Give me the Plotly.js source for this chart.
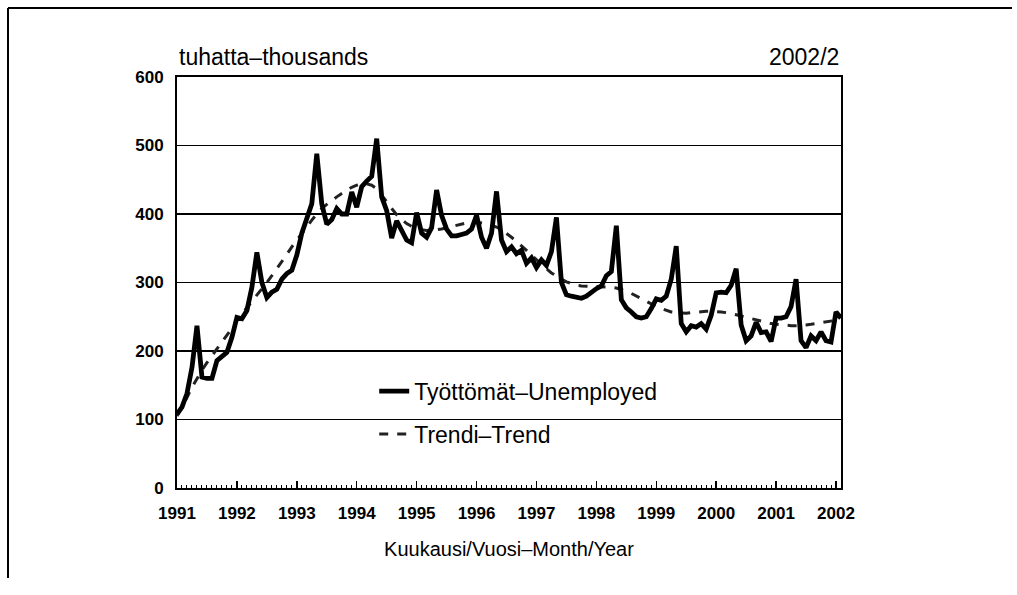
<!DOCTYPE html>
<html>
<head>
<meta charset="utf-8">
<script src="https://cdn.plot.ly/plotly-3.0.1.min.js"></script>
<style>
html,body{margin:0;padding:0;background:#fff;}
#chart{width:1017px;height:595px;}
</style>
</head>
<body>
<div id="chart"></div>
<script>
// Monthly data, Jan 1991 – Feb 2002 (thousands)
const yearLabels = ["1991","1992","1993","1994","1995","1996","1997","1998","1999","2000","2001","2002"];
const yTickVals = [0,100,200,300,400,500,600];

const unemployed = [
  108,118,138,176,237,162,160,160,186,191,198,220,   // 1991
  249,247,259,293,344,300,278,286,290,305,313,318,   // 1992
  340,372,392,415,488,415,385,392,408,400,400,432,   // 1993
  410,440,448,455,510,425,405,365,390,375,362,358,   // 1994
  402,372,366,380,435,398,378,368,368,370,372,378,   // 1995
  398,366,350,372,433,362,345,352,342,347,328,336,   // 1996
  322,333,325,345,395,300,282,280,279,277,280,286,   // 1997
  291,295,310,316,383,275,263,257,250,248,250,262,   // 1998
  276,274,280,305,353,240,228,237,235,240,232,252,   // 1999
  285,286,285,296,320,238,215,222,242,227,228,214,   // 2000
  248,248,250,265,305,215,205,222,215,228,215,213,   // 2001
  257,248                                            // 2002
];

const trend = [
  105,118,132,147,160,172,183,193,203,213,222,233,   // 1991
  245,254,263,272,282,291,300,310,320,330,341,352,   // 1992
  362,372,382,391,400,408,414,420,425,430,435,439,   // 1993
  442,444,444,442,437,428,418,408,399,392,386,382,   // 1994
  379,377,376,376,377,378,380,382,384,386,387,388,   // 1995
  388,387,386,384,381,377,372,366,360,354,347,340,   // 1996
  333,326,320,314,309,305,301,298,296,295,294,294,   // 1997
  294,294,294,293,292,290,287,284,280,276,272,268,   // 1998
  265,262,259,257,256,255,255,256,257,258,258,258,   // 1999
  258,257,256,255,253,251,249,247,245,243,241,240,   // 2000
  239,238,237,237,237,237,238,239,240,241,243,244,   // 2001
  245,246                                            // 2002
];

const months = unemployed.map((_, i) => i);
const yearTickVals = yearLabels.map((_, i) => i * 12);

const FONT = "'Liberation Sans', Arial, sans-serif";

const traces = [
  {
    x: months, y: trend, type: 'scatter', mode: 'lines',
    name: 'Trendi\u2013Trend', legendrank: 2, legendgroup: 'b',
    line: {color: '#222', width: 3, dash: 'dash'}
  },
  {
    x: months, y: unemployed, type: 'scatter', mode: 'lines',
    name: 'Työttömät\u2013Unemployed', legendrank: 1, legendgroup: 'a',
    line: {color: '#000', width: 4.8}
  }
];

// helpers for outer frame in paper units
const L = 177, R = 176, T = 77, B = 107, W = 1017, H = 595;
const pw = W - L - R, ph = H - T - B;
const px = v => (v - L) / pw;
const py = v => (H - B - v) / ph;

const layout = {
  width: W, height: H,
  margin: {l: L, r: R, t: T, b: B, pad: 0},
  paper_bgcolor: '#fff', plot_bgcolor: '#fff',
  font: {family: FONT, color: '#000', size: 18},
  showlegend: true,
  legend: {
    x: 0.297, xanchor: 'left', y: 0.288, yanchor: 'top',
    bgcolor: 'rgba(0,0,0,0)', borderwidth: 0,
    font: {family: FONT, size: 23, color: '#000'},
    tracegroupgap: 10, itemwidth: 30
  },
  xaxis: {
    range: [0, 133],
    tickmode: 'array', tickvals: yearTickVals, ticktext: yearLabels,
    ticks: 'inside', ticklen: 7, tickwidth: 1.5, tickcolor: '#000',
    minor: {tick0: 0, dtick: 1, ticks: 'inside', ticklen: 3, tickwidth: 1, tickcolor: '#000', showgrid: false},
    showgrid: false, zeroline: false,
    showline: true, linecolor: '#000', linewidth: 2, mirror: true,
    ticklabelstandoff: 9,
    tickfont: {family: FONT, size: 17, weight: 'bold'},
    title: {text: 'Kuukausi/Vuosi\u2013Month/Year', font: {family: FONT, size: 20}, standoff: 20}
  },
  yaxis: {
    range: [0, 600],
    tickmode: 'array', tickvals: yTickVals,
    ticks: '', showgrid: true, gridcolor: '#000', gridwidth: 1.6,
    zeroline: false,
    showline: true, linecolor: '#000', linewidth: 2, mirror: true,
    ticklabelstandoff: 8,
    tickfont: {family: FONT, size: 17, weight: 'bold'}
  },
  annotations: [
    {xref: 'paper', yref: 'paper', x: 0, y: 1, xanchor: 'left', yanchor: 'bottom', yshift: 5,
     text: 'tuhatta\u2013thousands', showarrow: false, font: {family: FONT, size: 23}},
    {xref: 'paper', yref: 'paper', x: 1, y: 1, xanchor: 'right', yanchor: 'bottom', yshift: 5,
     text: '2002/2', showarrow: false, font: {family: FONT, size: 23}}
  ],
  shapes: [
    {type: 'line', xref: 'paper', yref: 'paper', x0: px(8), x1: px(1012), y0: py(8), y1: py(8),
     line: {color: '#000', width: 2}},
    {type: 'line', xref: 'paper', yref: 'paper', x0: px(8), x1: px(8), y0: py(8), y1: py(578),
     line: {color: '#000', width: 2}}
  ]
};

Plotly.newPlot('chart', traces, layout, {staticPlot: true, displayModeBar: false});
</script>
</body>
</html>
